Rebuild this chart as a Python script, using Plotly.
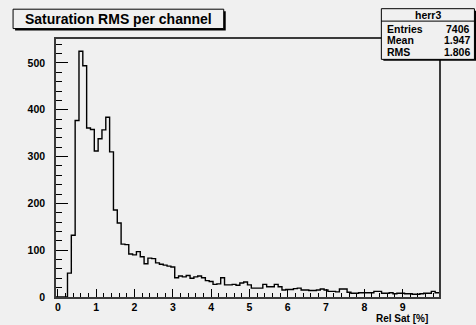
import numpy as np
import plotly.graph_objects as go

# ---- data -------------------------------------------------------------
hist_name = "herr3"
title_text = "Saturation RMS per channel"
x_title = "Rel Sat [%]"
stats_labels = ["Entries", "Mean", "RMS"]
stats_values = ["7406", "1.947", "1.806"]

bin_low = -0.05
bin_width = 0.1
counts = [
    0, 0, 0, 51, 132, 377, 525, 494, 361, 358,
    312, 338, 357, 384, 310, 186, 158, 113, 112, 92,
    90, 97, 86, 71, 83, 82, 73, 70, 68, 66,
    64, 41, 45, 43, 46, 40, 43, 45, 41, 35,
    33, 27, 28, 41, 26, 26, 27, 25, 30, 32,
    26, 19, 19, 19, 27, 22, 22, 27, 22, 15,
    16, 16, 18, 19, 15, 15, 14, 14, 15, 17,
    15, 12, 12, 11, 17, 17, 10, 8, 8, 9,
    9, 9, 9, 12, 12, 8, 8, 9, 7, 8,
    8, 7, 7, 6, 6, 7, 8, 8, 12, 9,
]
x_tick_vals = [0, 1, 2, 3, 4, 5, 6, 7, 8, 9]
y_tick_vals = [0, 100, 200, 300, 400, 500]

# ---- derived ----------------------------------------------------------
n = len(counts)
edges = [round(bin_low + i * bin_width, 4) for i in range(n + 1)]
step_y = list(counts) + [counts[-1]]
x_range = [edges[0], edges[-1]]
y_range = [0, max(counts) * 1.05]

W, H = 476, 325
ML, MR, MT, MB = 56.4, 36.9, 39, 26.3
PW, PH = W - ML - MR, H - MT - MB

def px(xp):
    return (xp - ML) / PW

def py(yp):
    return (H - MB - yp) / PH

BG = "#f0f0f0"
FONT = "Liberation Sans, Arial, Helvetica, sans-serif"
FRAME = "#3a3a3a"

fig = go.Figure()
fig.add_trace(go.Scatter(
    x=edges, y=step_y, mode="lines", line_shape="hv",
    line=dict(color="black", width=1.4), hoverinfo="skip", showlegend=False,
))

fig.update_layout(
    width=W, height=H,
    margin=dict(l=ML, r=MR, t=MT, b=MB, pad=0),
    paper_bgcolor=BG, plot_bgcolor=BG,
    showlegend=False,
    font=dict(family=FONT, color="black", size=10.5),
)

fig.update_xaxes(
    range=x_range, showgrid=False, zeroline=False,
    showline=True, linecolor=FRAME, linewidth=1.5, mirror=True,
    ticks="inside", ticklen=8, tickwidth=1.2, tickcolor="black",
    tickvals=x_tick_vals, ticktext=[str(v) for v in x_tick_vals],
    tickfont=dict(family=FONT, size=10.5, weight="bold", color="black"),
    minor=dict(ticks="inside", ticklen=4, dtick=0.2, tick0=0, tickcolor="black", tickwidth=1),
    ticklabelstandoff=0,
)
fig.update_yaxes(
    range=y_range, showgrid=False, zeroline=False,
    showline=True, linecolor=FRAME, linewidth=1.5, mirror=True,
    ticks="inside", ticklen=12, tickwidth=1.2, tickcolor="black",
    tickvals=y_tick_vals, ticktext=[str(v) for v in y_tick_vals],
    tickfont=dict(family=FONT, size=10.5, weight="bold", color="black"),
    minor=dict(ticks="inside", ticklen=6, dtick=20, tick0=0, tickcolor="black", tickwidth=1),
    ticklabelstandoff=7,
)

shapes = []
# title box with shadow
shapes.append(dict(type="rect", xref="paper", yref="paper",
                   x0=px(15.5), x1=px(226), y0=py(30.5), y1=py(11),
                   fillcolor="black", line=dict(width=0), layer="above"))
shapes.append(dict(type="rect", xref="paper", yref="paper",
                   x0=px(13.5), x1=px(224), y0=py(28.5), y1=py(9),
                   fillcolor=BG, line=dict(color="black", width=1), layer="above"))
# stats box with shadow
shapes.append(dict(type="rect", xref="paper", yref="paper",
                   x0=px(383.5), x1=px(477), y0=py(61), y1=py(10.5),
                   fillcolor="black", line=dict(width=0), layer="above"))
shapes.append(dict(type="rect", xref="paper", yref="paper",
                   x0=px(381.5), x1=px(474.5), y0=py(59.5), y1=py(8.5),
                   fillcolor=BG, line=dict(color="black", width=1), layer="above"))
shapes.append(dict(type="line", xref="paper", yref="paper",
                   x0=px(381.5), x1=px(474.5), y0=py(21), y1=py(21),
                   line=dict(color="black", width=1), layer="above"))
fig.update_layout(shapes=shapes)

ann = []
ann.append(dict(text=title_text, xref="paper", yref="paper",
                x=px(118.5), y=py(19), xanchor="center", yanchor="middle",
                showarrow=False, font=dict(family=FONT, size=14, weight="bold", color="black")))
ann.append(dict(text=hist_name, xref="paper", yref="paper",
                x=px(428), y=py(15), xanchor="center", yanchor="middle",
                showarrow=False, font=dict(family=FONT, size=10.5, weight="bold", color="black")))
row_y = [28.5, 40.5, 52]
for lab, val, yy in zip(stats_labels, stats_values, row_y):
    ann.append(dict(text=lab, xref="paper", yref="paper", x=px(385.5), y=py(yy),
                    xanchor="left", yanchor="middle", showarrow=False,
                    font=dict(family=FONT, size=10.5, weight="bold", color="black")))
    ann.append(dict(text=val, xref="paper", yref="paper", x=px(472.5), y=py(yy),
                    xanchor="right", yanchor="middle", showarrow=False,
                    font=dict(family=FONT, size=10.5, weight="bold", color="black")))
ann.append(dict(text=x_title, xref="paper", yref="paper", x=px(430.5), y=py(320.5),
                xanchor="right", yanchor="middle", showarrow=False,
                font=dict(family=FONT, size=10, weight="bold", color="black")))
fig.update_layout(annotations=ann)

fig.write_html("out.html")
